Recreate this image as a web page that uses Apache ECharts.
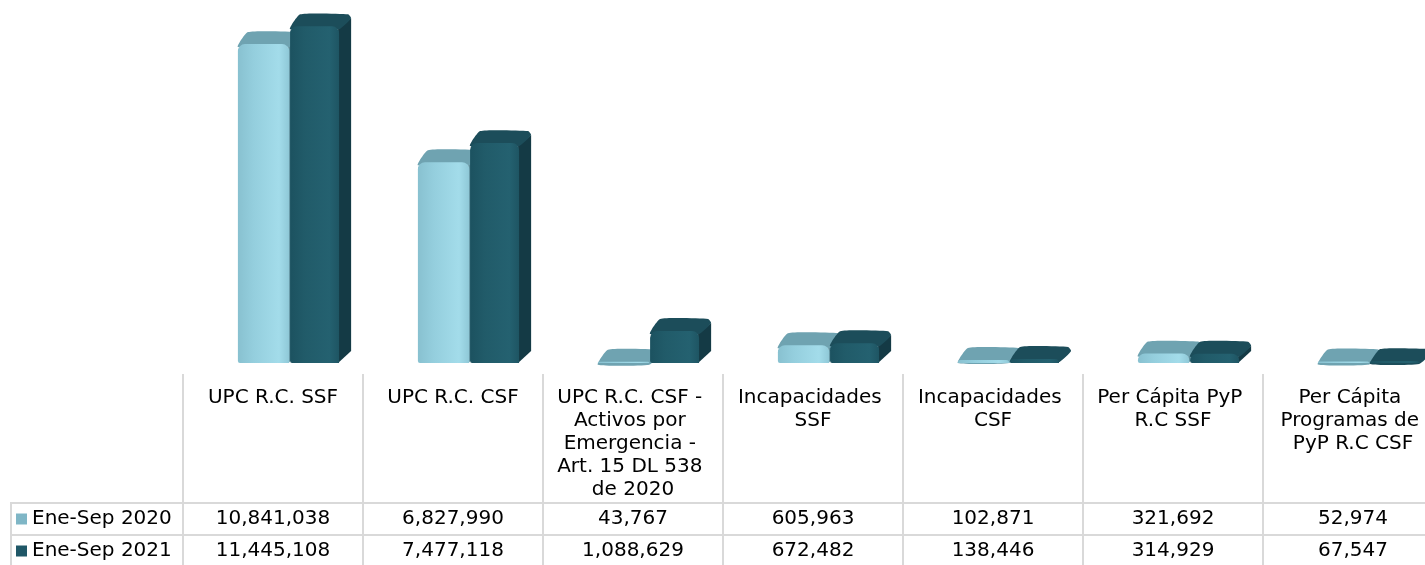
<!DOCTYPE html>
<html>
<head>
<meta charset="utf-8">
<script src="https://cdn.jsdelivr.net/npm/echarts@6/dist/echarts.min.js"></script>
<style>
  html, body { margin: 0; padding: 0; background: #fff; }
  #main { width: 1425px; height: 565px; }
</style>
</head>
<body>
<div id="main"></div>
<script>
// categorias y valores (Ene-Sep 2020 vs Ene-Sep 2021)
var categories = [
    'UPC R.C. SSF',
    'UPC R.C. CSF',
    'UPC R.C. CSF - Activos por Emergencia - Art. 15 DL 538 de 2020',
    'Incapacidades SSF',
    'Incapacidades CSF',
    'Per Cápita PyP R.C SSF',
    'Per Cápita Programas de PyP R.C CSF'
];
var seriesNames = ['Ene-Sep 2020', 'Ene-Sep 2021'];
var values2020 = [10841038, 6827990, 43767, 605963, 102871, 321692, 52974];
var values2021 = [11445108, 7477118, 1088629, 672482, 138446, 314929, 67547];
var valueMax = 12000000;

var FONT = 'Verdana, "DejaVu Sans", sans-serif';
var LINE = '#d9d9d9';

function fmt(n) {
    return n.toLocaleString('en-US');
}

// colores de cada serie: frente (gradiente), tapa, lado
var palette = [
    { front: ['#88c1d0', '#94cedd', '#a3dcea', '#8fc8d7'], top: '#6fa3b1', side: '#5f8f9c', key: '#7fb6c6' },
    { front: ['#1c5260', '#215b69', '#246170', '#1e5563'], top: '#1c4d5a', side: '#143a45', key: '#1f5767' }
];

function bar3d(s) {
    return function (params, api) {
        var cat = api.value(0);
        var val = api.value(1);
        var base = api.coord([cat, 0]);
        var top = api.coord([cat, val]);
        var band = api.size([1, 0])[0];
        var x0 = base[0] + band * (s === 0 ? -0.195 : 0.095);
        var w = band * (s === 0 ? 0.285 : 0.272);
        var x1 = x0 + w;
        var dx = band * 0.067, dy = 12;
        var yb = base[1], yt = Math.min(top[1], yb - 1);
        var c = palette[s];
        var grad = new echarts.graphic.LinearGradient(0, 0, 1, 0, [
            { offset: 0, color: c.front[0] },
            { offset: 0.3, color: c.front[1] },
            { offset: 0.8, color: c.front[2] },
            { offset: 1, color: c.front[3] }
        ]);
        return {
            type: 'group',
            children: [
                {
                    type: 'polygon',
                    shape: { points: [[x1 - 1, yt + 3], [x1 + dx, yt - dy + 4], [x1 + dx, yb - dy], [x1 - 1, yb]] },
                    style: { fill: c.side }
                },
                {
                    type: 'polygon',
                    shape: { points: [[x0, yt + 3], [x0 + dx - 2, yt - dy], [x1 + dx - 3, yt - dy], [x1 + dx, yt - dy + 4], [x1, yt + 3]], smooth: 0.15 },
                    style: { fill: c.top }
                },
                {
                    type: 'rect',
                    shape: { x: x0, y: yt, width: w, height: yb - yt, r: [7, 7, 0, 2] },
                    style: { fill: grad }
                }
            ]
        };
    };
}

function pairs(arr) {
    return arr.map(function (v, i) { return [i, v]; });
}

var myChart = echarts.init(document.getElementById('main'));

var labelBase = { fontFamily: FONT, fontSize: 20, color: '#000' };

myChart.setOption({
    backgroundColor: '#fff',
    animation: false,
    grid: { left: 183, top: 10, right: -18, bottom: 202, outerBoundsMode: 'none', containLabel: false },
    legend: {
        left: 16,
        top: 509,
        orient: 'vertical',
        icon: 'rect',
        itemWidth: 11,
        itemHeight: 11,
        itemGap: 12,
        padding: 0,
        selectedMode: false,
        textStyle: { fontFamily: FONT, fontSize: 20, color: '#000', lineHeight: 20 },
        data: seriesNames
    },
    xAxis: [
        {
            type: 'category',
            data: categories,
            position: 'bottom',
            axisLine: { show: false },
            axisTick: { show: false },
            axisLabel: Object.assign({}, labelBase, {
                interval: 0, width: 168, overflow: 'break', lineHeight: 23,
                margin: 23, verticalAlign: 'top', align: 'center'
            })
        },
        {
            type: 'category',
            data: categories,
            position: 'bottom',
            offset: 156,
            axisLine: { show: false },
            axisTick: { show: false },
            axisLabel: Object.assign({}, labelBase, {
                interval: 0, margin: 0, verticalAlign: 'middle',
                formatter: function (v, i) { return fmt(values2020[i]); }
            })
        },
        {
            type: 'category',
            data: categories,
            position: 'bottom',
            offset: 188,
            axisLine: { show: false },
            axisTick: { show: false },
            axisLabel: Object.assign({}, labelBase, {
                interval: 0, margin: 0, verticalAlign: 'middle',
                formatter: function (v, i) { return fmt(values2021[i]); }
            })
        },
        {
            // lineas verticales de la tabla
            type: 'category',
            data: categories,
            position: 'bottom',
            offset: 11,
            axisLine: { show: false },
            axisLabel: { show: false },
            axisTick: { show: true, interval: 0, length: 200, lineStyle: { color: LINE, width: 2 } }
        }
    ],
    yAxis: { type: 'value', min: 0, max: valueMax, show: false },
    graphic: [
        { type: 'line', shape: { x1: 10, y1: 503, x2: 1425, y2: 503 }, style: { stroke: LINE, lineWidth: 2 } },
        { type: 'line', shape: { x1: 10, y1: 535, x2: 1425, y2: 535 }, style: { stroke: LINE, lineWidth: 2 } },
        { type: 'line', shape: { x1: 11, y1: 502, x2: 11, y2: 565 }, style: { stroke: LINE, lineWidth: 2 } }
    ],
    series: [
        {
            name: seriesNames[0],
            type: 'custom',
            renderItem: bar3d(0),
            itemStyle: { color: palette[0].key },
            encode: { x: 0, y: 1 },
            data: pairs(values2020)
        },
        {
            name: seriesNames[1],
            type: 'custom',
            renderItem: bar3d(1),
            itemStyle: { color: palette[1].key },
            encode: { x: 0, y: 1 },
            data: pairs(values2021)
        }
    ]
});
</script>
</body>
</html>
